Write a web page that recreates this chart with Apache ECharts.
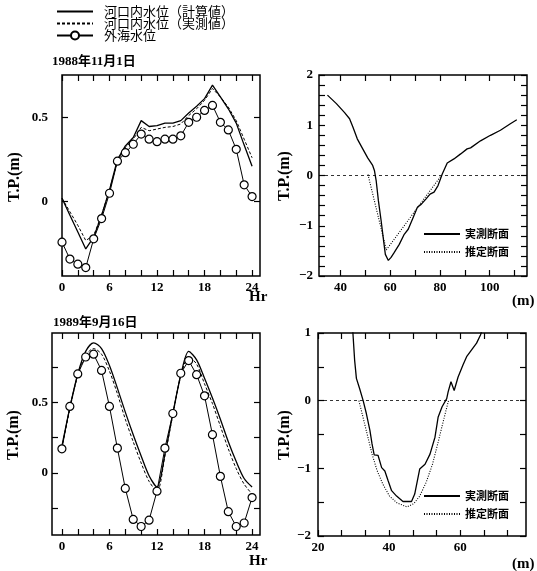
<!DOCTYPE html>
<html>
<head>
<meta charset="utf-8">
<script src="https://cdn.jsdelivr.net/npm/echarts@6/dist/echarts.min.js"></script>
<style>
  html, body { margin: 0; padding: 0; background: #fff; }
  #main { width: 537px; height: 571px; }
</style>
</head>
<body>
<div id="main"></div>
<script>
// 時刻 (Hr)
var hours = [0, 1, 2, 3, 4, 5, 6, 7, 8, 9, 10, 11, 12, 13, 14, 15, 16, 17, 18, 19, 20, 21, 22, 23, 24];

// 1988年11月1日
var calc1988 = [0.02, -0.08, -0.18, -0.28, -0.21, -0.08, 0.07, 0.25, 0.33, 0.38, 0.48, 0.445, 0.45, 0.465, 0.465, 0.48, 0.525, 0.565, 0.61, 0.69, 0.62, 0.55, 0.465, 0.335, 0.21];
var meas1988 = [0.02, -0.06, -0.14, -0.23, -0.20, -0.08, 0.07, 0.24, 0.32, 0.37, 0.44, 0.42, 0.43, 0.44, 0.445, 0.46, 0.51, 0.55, 0.60, 0.67, 0.62, 0.56, 0.48, 0.37, 0.26];
var sea1988 = [-0.24, -0.34, -0.37, -0.39, -0.22, -0.10, 0.05, 0.24, 0.29, 0.34, 0.40, 0.37, 0.355, 0.37, 0.37, 0.39, 0.47, 0.50, 0.54, 0.57, 0.47, 0.425, 0.31, 0.10, 0.03];

// 1989年9月16日
var calc1989 = [0.19, 0.46, 0.70, 0.86, 0.92, 0.88, 0.76, 0.60, 0.43, 0.27, 0.12, -0.02, -0.10, 0.13, 0.42, 0.69, 0.86, 0.80, 0.67, 0.53, 0.38, 0.22, 0.08, -0.04, -0.10];
var meas1989 = [0.18, 0.45, 0.69, 0.83, 0.88, 0.84, 0.72, 0.56, 0.38, 0.22, 0.07, -0.06, -0.13, 0.12, 0.41, 0.68, 0.82, 0.77, 0.63, 0.49, 0.33, 0.17, 0.03, -0.08, -0.15];
var sea1989 = [0.17, 0.47, 0.70, 0.82, 0.84, 0.725, 0.47, 0.175, -0.11, -0.33, -0.38, -0.335, -0.13, 0.175, 0.42, 0.705, 0.795, 0.695, 0.545, 0.27, -0.025, -0.275, -0.38, -0.355, -0.175];

// 断面 (距離 m, T.P. m)
var measSection1 = [[34.7, 1.60], [38.3, 1.43], [41.6, 1.25], [43.6, 1.13], [44.9, 0.97], [46.7, 0.73], [48.9, 0.53], [50.9, 0.35], [52.9, 0.20], [53.6, 0.10], [54.3, -0.10], [55.2, -0.50], [56.3, -0.90], [57.3, -1.30], [58.0, -1.57], [59.2, -1.69], [60.3, -1.63], [61.6, -1.53], [63.6, -1.37], [65.6, -1.17], [67.2, -1.07], [68.9, -0.87], [70.9, -0.63], [72.5, -0.57], [74.3, -0.47], [76.0, -0.37], [77.6, -0.33], [79.2, -0.20], [80.9, 0.03], [82.9, 0.25], [85.6, 0.33], [88.3, 0.43], [90.9, 0.53], [92.3, 0.55], [96.3, 0.69], [100.3, 0.80], [104.3, 0.90], [108.3, 1.03], [110.9, 1.11]];
var estSection1 = [[51.0, 0.02], [58.4, -1.48], [80.5, 0.0]];
var measSection2 = [[29.7, 1.1], [30.3, 0.60], [30.8, 0.33], [31.7, 0.18], [32.7, 0.0], [33.6, -0.19], [34.6, -0.44], [35.2, -0.64], [35.8, -0.80], [36.9, -0.81], [37.9, -0.99], [38.8, -1.04], [39.7, -1.18], [40.7, -1.33], [42.1, -1.41], [43.9, -1.49], [46.3, -1.49], [47.2, -1.38], [48.6, -1.01], [50.1, -0.94], [51.5, -0.79], [52.9, -0.54], [53.8, -0.24], [54.9, -0.09], [56.2, 0.03], [56.6, 0.13], [57.4, 0.28], [58.3, 0.15], [59.4, 0.35], [60.8, 0.53], [61.8, 0.65], [63.2, 0.75], [64.6, 0.85], [65.7, 0.97], [66.2, 1.05]];
var estSection2 = [[31.5, 0.0], [32.4, -0.19], [33.8, -0.49], [35.2, -0.79], [36.6, -1.03], [38.2, -1.23], [40.1, -1.41], [42.2, -1.51], [45.0, -1.57], [47.0, -1.52], [48.6, -1.41], [50.4, -1.21], [52.2, -0.94], [53.9, -0.59], [55.3, -0.29], [56.7, 0.0]];

// 目盛
var hourTicks = [0, 2, 4, 6, 8, 10, 12, 14, 16, 18, 20, 22, 24];
var hourLabels = [0, 6, 12, 18, 24];
var tideLabels = [0, 0.5];
var tide1988Ticks = [0, 0.5];
var tide1989Ticks = [-0.25, 0, 0.25, 0.5, 0.75];
var dist1Ticks = [40, 50, 60, 70, 80, 90, 100, 110];
var dist1Labels = [40, 60, 80, 100];
var depth1Ticks = [-2, -1.8, -1.6, -1.4, -1.2, -1, -0.8, -0.6, -0.4, -0.2, 0, 0.2, 0.4, 0.6, 0.8, 1, 1.2, 1.4, 1.6, 1.8, 2];
var depth1Labels = [-2, -1, 0, 1, 2];
var dist2Ticks = [20, 26.667, 33.333, 40, 46.667, 53.333, 60, 66.667, 73.333];
var dist2Labels = [20, 40, 60];
var depth2Ticks = [-2, -1.5, -1, -0.5, 0, 0.5, 1];
var depth2Labels = [-2, -1, 0, 1];

var SERIF = '"Liberation Serif", "Noto Sans CJK JP", serif';
var CJK = '"Noto Sans CJK JP", sans-serif';

var chart = echarts.init(document.getElementById('main'));

function fmt(v) {
	return v < 0 ? '\u2212' + Math.abs(v) : String(v);
}

// 軸 (下/左はラベル付き、上/右は目盛のみ)
function makeAxis(gridIndex, position, min, max, ticks, labels, margin) {
	return {
		type: 'value',
		gridIndex: gridIndex,
		position: position,
		min: min,
		max: max,
		axisLine: { show: false, onZero: false },
		splitLine: { show: false },
		axisTick: {
			show: true,
			inside: true,
			length: 6,
			customValues: ticks,
			lineStyle: { color: '#000', width: 1.2 }
		},
		axisLabel: {
			show: !!labels,
			customValues: labels || [],
			margin: margin || 6,
			formatter: fmt,
			color: '#000',
			fontFamily: SERIF,
			fontWeight: 'bold',
			fontSize: 13
		}
	};
}

var grids = [
	{ left: 62, top: 75, width: 198, height: 201 },
	{ left: 319, top: 75, width: 208, height: 201 },
	{ left: 52, top: 333, width: 208, height: 202 },
	{ left: 318, top: 333, width: 208, height: 203 }
].map(function(g) {
	g.show = true;
	g.borderColor = '#000';
	g.borderWidth = 1.5;
	g.containLabel = false;
	g.outerBoundsMode = 'none';
	return g;
});

var xAxes = [
	makeAxis(0, 'bottom', 0, 25, hourTicks, hourLabels, 5),
	makeAxis(0, 'top', 0, 25, hourTicks),
	makeAxis(1, 'bottom', 31.3, 115, dist1Ticks, dist1Labels, 5),
	makeAxis(1, 'top', 31.3, 115, dist1Ticks),
	makeAxis(2, 'bottom', -1.25, 25, hourTicks, hourLabels, 5),
	makeAxis(2, 'top', -1.25, 25, hourTicks),
	makeAxis(3, 'bottom', 20, 78.5, dist2Ticks, dist2Labels, 5),
	makeAxis(3, 'top', 20, 78.5, dist2Ticks)
];
var yAxes = [
	makeAxis(0, 'left', -0.44, 0.75, tide1988Ticks, tideLabels, 14),
	makeAxis(0, 'right', -0.44, 0.75, tide1988Ticks),
	makeAxis(1, 'left', -2, 2, depth1Ticks, depth1Labels, 6),
	makeAxis(1, 'right', -2, 2, depth1Ticks),
	makeAxis(2, 'left', -0.44, 0.99, tide1989Ticks, tideLabels, 4),
	makeAxis(2, 'right', -0.44, 0.99, tide1989Ticks),
	makeAxis(3, 'left', -2, 1, depth2Ticks, depth2Labels, 7),
	makeAxis(3, 'right', -2, 1, depth2Ticks)
];

function pairs(values) {
	return hours.map(function(h, i) { return [h, values[i]]; });
}

var solidStyle = { color: '#000', width: 1.3, type: 'solid' };
var dashedStyle = { color: '#000', width: 1, type: [3, 2] };
var dottedStyle = { color: '#000', width: 1.1, type: [1, 1.5] };
var hiddenItem = { color: 'rgba(0,0,0,0)', borderWidth: 0, opacity: 0 };
var zeroLine = {
	silent: true,
	symbol: ['none', 'none'],
	label: { show: false },
	lineStyle: { color: '#000', width: 0.8, type: [3, 3] },
	data: [{ yAxis: 0 }]
};

function tideSeries(grid, calc, meas, sea, smooth) {
	return [{
		name: '河口内水位（計算値）',
		type: 'line',
		xAxisIndex: grid * 2,
		yAxisIndex: grid * 2,
		data: pairs(calc),
		symbol: 'none',
		smooth: smooth,
		itemStyle: hiddenItem,
		lineStyle: solidStyle
	}, {
		name: '河口内水位（実測値）',
		type: 'line',
		xAxisIndex: grid * 2,
		yAxisIndex: grid * 2,
		data: pairs(meas),
		symbol: 'none',
		smooth: smooth,
		itemStyle: hiddenItem,
		lineStyle: dashedStyle
	}, {
		name: '外海水位',
		type: 'line',
		xAxisIndex: grid * 2,
		yAxisIndex: grid * 2,
		data: pairs(sea),
		symbol: 'circle',
		symbolSize: 8,
		itemStyle: { color: '#fff', borderColor: '#000', borderWidth: 1.2 },
		lineStyle: { color: '#000', width: 1 },
		z: 3
	}];
}

function sectionSeries(grid, meas, est) {
	return [{
		name: '実測断面',
		type: 'line',
		xAxisIndex: grid * 2,
		yAxisIndex: grid * 2,
		data: meas,
		symbol: 'none',
		itemStyle: hiddenItem,
		lineStyle: solidStyle,
		markLine: zeroLine
	}, {
		name: '推定断面',
		type: 'line',
		xAxisIndex: grid * 2,
		yAxisIndex: grid * 2,
		data: est,
		symbol: 'none',
		itemStyle: hiddenItem,
		lineStyle: dottedStyle
	}];
}

var series = [].concat(
	tideSeries(0, calc1988, meas1988, sea1988, false),
	sectionSeries(1, measSection1, estSection1),
	tideSeries(2, calc1989, meas1989, sea1989, 0.3),
	sectionSeries(3, measSection2, estSection2)
);

function sectionLegend(top) {
	return {
		data: [
			{ name: '実測断面', itemStyle: hiddenItem },
			{ name: '推定断面', itemStyle: hiddenItem }
		],
		orient: 'vertical',
		left: 423,
		top: top,
		padding: 0,
		itemWidth: 36,
		itemHeight: 12,
		itemGap: 6,
		selectedMode: false,
		textStyle: { fontFamily: CJK, fontSize: 11, fontWeight: 'bold', color: '#000', lineHeight: 12 }
	};
}

function text(x, y, str, font, opts) {
	var el = {
		type: 'text',
		x: x,
		y: y,
		style: {
			text: str,
			font: font,
			fill: '#000',
			align: 'left',
			verticalAlign: 'middle'
		}
	};
	if (opts && opts.rotate) {
		el.rotation = Math.PI / 2;
		el.style.align = 'center';
	}
	return el;
}

var boldSerif = 'bold 13px ' + SERIF;
var bigSerif = 'bold 15px ' + SERIF;
var axisName = 'bold 16px ' + SERIF;

chart.setOption({
	animation: false,
	backgroundColor: '#fff',
	grid: grids,
	xAxis: xAxes,
	yAxis: yAxes,
	legend: [{
		data: [
			{ name: '河口内水位（計算値）', itemStyle: hiddenItem },
			{ name: '河口内水位（実測値）', itemStyle: hiddenItem },
			'外海水位'
		],
		orient: 'vertical',
		left: 56,
		top: 5,
		padding: 0,
		itemWidth: 36,
		itemHeight: 10,
		itemGap: -1,
		selectedMode: false,
		textStyle: { fontFamily: CJK, fontSize: 13, color: '#000', lineHeight: 10, padding: [0, 0, 0, 6] }
	}, sectionLegend(228), sectionLegend(490)],
	graphic: [
		text(52, 62, '1988年11月1日', boldSerif),
		text(53, 323, '1989年9月16日', boldSerif),
		text(249, 297, 'Hr', bigSerif),
		text(249, 561, 'Hr', bigSerif),
		text(512, 301, '(m)', bigSerif),
		text(512, 564, '(m)', bigSerif),
		text(15, 177, 'T.P.(m)', axisName, { rotate: true }),
		text(14, 435, 'T.P.(m)', axisName, { rotate: true }),
		text(285, 176, 'T.P.(m)', axisName, { rotate: true }),
		text(285, 435, 'T.P.(m)', axisName, { rotate: true })
	],
	series: series
});
</script>
</body>
</html>
